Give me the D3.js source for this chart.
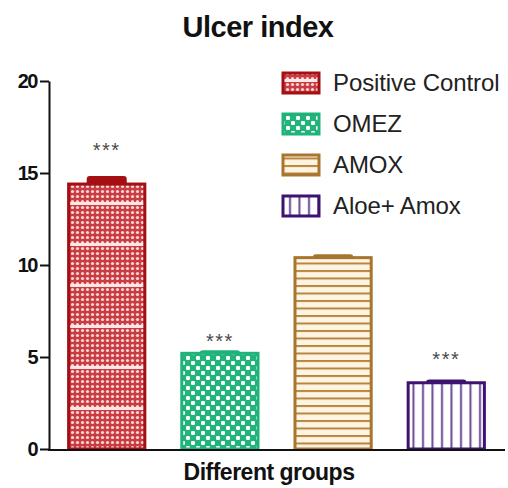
<!DOCTYPE html>
<html><head><meta charset="utf-8">
<script src="https://cdn.jsdelivr.net/npm/d3@7"></script>
<style>
html,body{margin:0;padding:0;background:#fff;}
svg{display:block;font-family:"Liberation Sans",Arial,sans-serif;}
</style></head>
<body>
<svg id="chart" width="508" height="488"></svg>
<script>
// ---- data ----
const groups = ["Positive Control", "OMEZ", "AMOX", "Aloe+ Amox"];
const means = [14.4, 5.2, 10.4, 3.6];
const errors = [0.35, 0.08, 0.1, 0.1];
const significance = ["***", "***", "", "***"];
const starLevels = [16.7, 6.3, null, 5.3]; // annotation height in data units
const yTicks = [0, 5, 10, 15, 20];
const title = "Ulcer index";
const xLabel = "Different groups";

// ---- styles ----
const strokeColors = ["#a30f12", "#1fb27a", "#a8742f", "#3e1370"];
const patternIds = ["pRed", "pGreen", "pBrown", "pPurple"];

const svg = d3.select("#chart");
const defs = svg.append("defs");

// red dotted pattern with light bands
{
  const p = defs.append("pattern").attr("id", "pRed").attr("patternUnits", "userSpaceOnUse")
    .attr("width", 5).attr("height", 41);
  p.append("rect").attr("width", 5).attr("height", 41).attr("fill", "#c93c42");
  for (let r = 0; r < 8; r++) {
    p.append("circle").attr("cx", 2.5).attr("cy", 2.5 + r * 5).attr("r", 1.6).attr("fill", "#fbd6d6");
  }
  p.append("rect").attr("y", 38).attr("width", 5).attr("height", 3).attr("fill", "#fde6e6");
}
// green checker pattern
{
  const p = defs.append("pattern").attr("id", "pGreen").attr("patternUnits", "userSpaceOnUse")
    .attr("width", 10).attr("height", 10);
  p.append("rect").attr("width", 10).attr("height", 10).attr("fill", "#22b47b");
  p.append("rect").attr("x", 1).attr("y", 1).attr("width", 4).attr("height", 4).attr("rx", 1.2).attr("fill", "#ffffff");
  p.append("rect").attr("x", 6).attr("y", 6).attr("width", 4).attr("height", 4).attr("rx", 1.2).attr("fill", "#ffffff");
}
// brown horizontal stripes
{
  const p = defs.append("pattern").attr("id", "pBrown").attr("patternUnits", "userSpaceOnUse")
    .attr("width", 8).attr("height", 7.5);
  p.append("rect").attr("width", 8).attr("height", 7.5).attr("fill", "#fdf5e2");
  p.append("rect").attr("y", 0).attr("width", 8).attr("height", 2).attr("fill", "#b98440");
}
// purple vertical lines
{
  const p = defs.append("pattern").attr("id", "pPurple").attr("patternUnits", "userSpaceOnUse")
    .attr("width", 9.5).attr("height", 10);
  p.append("rect").attr("width", 9.5).attr("height", 10).attr("fill", "#ffffff");
  p.append("rect").attr("x", 4).attr("width", 2).attr("height", 10).attr("fill", "#6a4996");
}

// ---- scales ----
const y = d3.scaleLinear().domain([0, 20]).range([449, 81]);
const x = d3.scaleBand().domain(groups).range([49, 504]).paddingInner(0.3).paddingOuter(0.16);

// title
svg.append("text").attr("x", 258).attr("y", 37).attr("text-anchor", "middle")
  .attr("font-size", 29).attr("font-weight", "bold").attr("letter-spacing", -0.5)
  .attr("fill", "#111").text(title);

// bars
const bars = svg.append("g");
groups.forEach((g, i) => {
  const x0 = x(g), w = x.bandwidth();
  const cx = x0 + w / 2;
  const yTop = y(means[i]), yErr = y(means[i] + errors[i]);
  bars.append("rect").attr("x", cx - 20).attr("y", yErr - 1.5).attr("width", 40)
    .attr("height", Math.max(yTop - yErr + 3, 3)).attr("rx", 3).attr("fill", strokeColors[i]);
  bars.append("rect")
    .attr("x", x0 + 1.5).attr("y", yTop)
    .attr("width", w - 3).attr("height", y(0) - yTop)
    .attr("fill", `url(#${patternIds[i]})`)
    .attr("stroke", strokeColors[i]).attr("stroke-width", 3);
  if (significance[i]) {
    svg.append("text").attr("x", cx).attr("y", y(starLevels[i])).attr("dy", "0.75em")
      .attr("text-anchor", "middle").attr("font-size", 20).attr("letter-spacing", 1.5)
      .attr("fill", "#4a4a4a").text(significance[i]);
  }
});

// axes
const yAxis = d3.axisLeft(y).tickValues(yTicks).tickSize(9).tickSizeOuter(0).tickPadding(3);
const gy = svg.append("g").attr("transform", "translate(49,0)").call(yAxis);
gy.select(".domain").attr("stroke", "#111").attr("stroke-width", 2);
gy.selectAll(".tick line").attr("stroke", "#111").attr("stroke-width", 2);
gy.selectAll(".tick text").attr("font-size", 20).attr("font-weight", "bold")
  .attr("letter-spacing", -1.5).attr("fill", "#111").attr("font-family", "Liberation Sans, Arial, sans-serif");

const xAxis = d3.axisBottom(x).tickSize(0).tickSizeOuter(0).tickFormat("");
const gx = svg.append("g").attr("transform", "translate(0,450)").call(xAxis);
gx.select(".domain").attr("stroke", "#111").attr("stroke-width", 2).attr("d", "M48,0H505");

svg.append("text").attr("x", 269).attr("y", 480).attr("text-anchor", "middle")
  .attr("font-size", 23).attr("font-weight", "bold").attr("letter-spacing", -0.5)
  .attr("fill", "#111").text(xLabel);

// legend
const leg = svg.append("g");
groups.forEach((g, i) => {
  const cy = 83 + i * 41;
  leg.append("rect").attr("x", 283).attr("y", cy - 10).attr("width", 36).attr("height", 20)
    .attr("fill", `url(#${patternIds[i]})`).attr("stroke", strokeColors[i]).attr("stroke-width", 3);
  leg.append("text").attr("x", 333).attr("y", cy).attr("dy", "0.35em")
    .attr("font-size", 24).attr("letter-spacing", -0.1).attr("fill", "#222").text(g);
});
</script>
</body></html>
